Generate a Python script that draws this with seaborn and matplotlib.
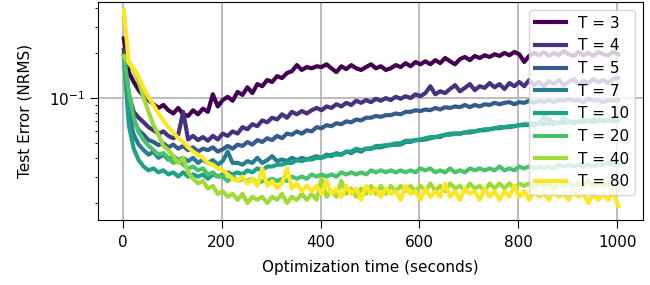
import numpy as np
import pandas as pd
import matplotlib
matplotlib.use("Agg")
import matplotlib.pyplot as plt
import seaborn as sns

plt.rcParams["font.size"] = 11

# sampling times (s) and planning horizons
time_s = np.arange(2, 1003, 10)
horizons = [3, 4, 5, 7, 10, 20, 40, 80]

# test error (NRMS), one value every 10 s
err_T3 = [0.25, 0.149, 0.128, 0.113, 0.103, 0.097, 0.091, 0.086, 0.090, 0.083,
          0.079, 0.086, 0.078, 0.076, 0.083, 0.078, 0.085, 0.081, 0.106, 0.088,
          0.097, 0.102, 0.096, 0.110, 0.105, 0.118, 0.108, 0.124, 0.120, 0.132,
          0.128, 0.140, 0.136, 0.147, 0.151, 0.166, 0.154, 0.161, 0.158, 0.163,
          0.161, 0.168, 0.158, 0.149, 0.163, 0.156, 0.166, 0.158, 0.154, 0.161,
          0.168, 0.158, 0.163, 0.154, 0.158, 0.166, 0.161, 0.171, 0.163, 0.174,
          0.168, 0.176, 0.168, 0.179, 0.171, 0.185, 0.176, 0.168, 0.182, 0.188,
          0.179, 0.191, 0.185, 0.193, 0.188, 0.196, 0.191, 0.200, 0.193, 0.203,
          0.196, 0.174, 0.191, 0.200, 0.193, 0.203, 0.191, 0.200, 0.193, 0.206,
          0.196, 0.191, 0.203, 0.193, 0.200, 0.191, 0.203, 0.196, 0.193, 0.203,
          0.196]
err_T4 = [0.209, 0.105, 0.081, 0.074, 0.069, 0.064, 0.061, 0.058, 0.060, 0.056,
          0.054, 0.057, 0.081, 0.053, 0.056, 0.0525, 0.055, 0.052, 0.056, 0.053,
          0.058, 0.056, 0.060, 0.058, 0.064, 0.062, 0.067, 0.065, 0.071, 0.069,
          0.074, 0.072, 0.078, 0.074, 0.081, 0.078, 0.082, 0.079, 0.083, 0.086,
          0.083, 0.088, 0.086, 0.091, 0.088, 0.093, 0.090, 0.096, 0.093, 0.097,
          0.094, 0.099, 0.096, 0.100, 0.097, 0.102, 0.099, 0.103, 0.100, 0.106,
          0.103, 0.108, 0.120, 0.106, 0.111, 0.108, 0.115, 0.122, 0.111, 0.117,
          0.124, 0.113, 0.120, 0.117, 0.126, 0.118, 0.124, 0.115, 0.126, 0.120,
          0.128, 0.120, 0.132, 0.122, 0.128, 0.120, 0.130, 0.124, 0.132, 0.122,
          0.128, 0.134, 0.124, 0.130, 0.126, 0.134, 0.128, 0.132, 0.126, 0.134,
          0.136]
err_T5 = [0.193, 0.090, 0.071, 0.061, 0.057, 0.0525, 0.051, 0.0486, 0.050, 0.047,
          0.049, 0.046, 0.048, 0.045, 0.047, 0.044, 0.046, 0.045, 0.047, 0.044,
          0.0456, 0.048, 0.046, 0.049, 0.048, 0.051, 0.049, 0.0525, 0.051, 0.054,
          0.0525, 0.056, 0.054, 0.058, 0.057, 0.060, 0.058, 0.061, 0.060, 0.064,
          0.063, 0.066, 0.065, 0.068, 0.067, 0.070, 0.069, 0.072, 0.071, 0.074,
          0.074, 0.076, 0.075, 0.077, 0.077, 0.079, 0.078, 0.081, 0.081, 0.083,
          0.082, 0.084, 0.083, 0.086, 0.084, 0.087, 0.086, 0.088, 0.087, 0.090,
          0.087, 0.090, 0.088, 0.091, 0.090, 0.093, 0.091, 0.093, 0.094, 0.091,
          0.094, 0.093, 0.096, 0.093, 0.096, 0.094, 0.097, 0.094, 0.097, 0.096,
          0.099, 0.096, 0.097, 0.094, 0.099, 0.096, 0.097, 0.094, 0.097, 0.096,
          0.097]
err_T7 = [0.19, 0.077, 0.057, 0.049, 0.045, 0.042, 0.044, 0.040, 0.042, 0.039,
          0.041, 0.0386, 0.040, 0.038, 0.040, 0.037, 0.039, 0.037, 0.0386, 0.036,
          0.038, 0.044, 0.037, 0.037, 0.036, 0.038, 0.037, 0.040, 0.037, 0.0386,
          0.041, 0.038, 0.039, 0.038, 0.040, 0.0386, 0.040, 0.039, 0.040, 0.041,
          0.040, 0.042, 0.041, 0.043, 0.042, 0.044, 0.043, 0.045, 0.044, 0.046,
          0.046, 0.047, 0.047, 0.048, 0.0486, 0.049, 0.049, 0.051, 0.051, 0.0525,
          0.0525, 0.053, 0.054, 0.055, 0.055, 0.057, 0.057, 0.058, 0.058, 0.059,
          0.059, 0.060, 0.061, 0.061, 0.062, 0.063, 0.063, 0.064, 0.064, 0.065,
          0.066, 0.066, 0.067, 0.066, 0.068, 0.067, 0.073, 0.067, 0.069, 0.068,
          0.070, 0.068, 0.070, 0.069, 0.071, 0.069, 0.071, 0.070, 0.072, 0.070,
          0.071]
err_T10 = [0.19, 0.066, 0.046, 0.0386, 0.035, 0.033, 0.034, 0.032, 0.033, 0.031,
           0.032, 0.030, 0.032, 0.030, 0.031, 0.030, 0.031, 0.029, 0.031, 0.030,
           0.031, 0.032, 0.031, 0.032, 0.031, 0.033, 0.032, 0.034, 0.033, 0.035,
           0.035, 0.036, 0.036, 0.037, 0.037, 0.0386, 0.038, 0.039, 0.039, 0.040,
           0.040, 0.041, 0.042, 0.042, 0.042, 0.044, 0.044, 0.046, 0.045, 0.046,
           0.046, 0.048, 0.048, 0.0486, 0.049, 0.050, 0.050, 0.052, 0.052, 0.0525,
           0.053, 0.054, 0.055, 0.055, 0.056, 0.057, 0.058, 0.058, 0.058, 0.059,
           0.060, 0.060, 0.061, 0.062, 0.062, 0.063, 0.064, 0.064, 0.065, 0.065,
           0.066, 0.067, 0.066, 0.068, 0.067, 0.077, 0.067, 0.069, 0.068, 0.074,
           0.069, 0.070, 0.069, 0.071, 0.070, 0.072, 0.070, 0.072, 0.071, 0.072,
           0.074]
err_T20 = [0.19, 0.110, 0.074, 0.059, 0.0525, 0.048, 0.045, 0.042, 0.043, 0.040,
           0.037, 0.0386, 0.036, 0.034, 0.035, 0.033, 0.034, 0.031, 0.032, 0.030,
           0.030, 0.028, 0.030, 0.028, 0.029, 0.028, 0.029, 0.027, 0.028, 0.028,
           0.029, 0.028, 0.029, 0.028, 0.030, 0.029, 0.030, 0.029, 0.031, 0.030,
           0.031, 0.030, 0.031, 0.030, 0.032, 0.031, 0.032, 0.031, 0.032, 0.031,
           0.033, 0.032, 0.033, 0.032, 0.033, 0.032, 0.033, 0.032, 0.033, 0.032,
           0.034, 0.033, 0.034, 0.032, 0.033, 0.032, 0.034, 0.032, 0.033, 0.032,
           0.034, 0.033, 0.034, 0.033, 0.034, 0.033, 0.035, 0.033, 0.034, 0.033,
           0.035, 0.034, 0.035, 0.034, 0.035, 0.034, 0.035, 0.034, 0.036, 0.035,
           0.036, 0.035, 0.036, 0.035, 0.036, 0.035, 0.036, 0.036, 0.037, 0.036,
           0.036]
err_T40 = [0.19, 0.171, 0.154, 0.128, 0.101, 0.081, 0.066, 0.057, 0.048, 0.045,
           0.041, 0.037, 0.040, 0.032, 0.029, 0.027, 0.028, 0.025, 0.026, 0.023,
           0.024, 0.022, 0.023, 0.021, 0.023, 0.020, 0.022, 0.021, 0.022, 0.020,
           0.022, 0.021, 0.023, 0.020, 0.022, 0.021, 0.023, 0.021, 0.023, 0.021,
           0.029, 0.022, 0.024, 0.022, 0.028, 0.023, 0.025, 0.022, 0.025, 0.023,
           0.026, 0.023, 0.026, 0.023, 0.026, 0.024, 0.026, 0.024, 0.026, 0.024,
           0.026, 0.024, 0.027, 0.024, 0.026, 0.024, 0.027, 0.025, 0.026, 0.024,
           0.027, 0.025, 0.026, 0.024, 0.027, 0.025, 0.027, 0.025, 0.027, 0.025,
           0.027, 0.026, 0.027, 0.025, 0.027, 0.026, 0.027, 0.025, 0.027, 0.026,
           0.027, 0.026, 0.027, 0.026, 0.028, 0.026, 0.027, 0.026, 0.027, 0.026,
           0.027]
err_T80 = [0.386, 0.174, 0.158, 0.138, 0.117, 0.101, 0.090, 0.079, 0.071, 0.064,
           0.059, 0.054, 0.051, 0.047, 0.044, 0.042, 0.040, 0.037, 0.036, 0.034,
           0.033, 0.031, 0.029, 0.028, 0.030, 0.027, 0.029, 0.026, 0.034, 0.026,
           0.028, 0.025, 0.027, 0.034, 0.025, 0.027, 0.024, 0.026, 0.024, 0.026,
           0.023, 0.028, 0.023, 0.025, 0.022, 0.026, 0.023, 0.025, 0.021, 0.026,
           0.023, 0.025, 0.022, 0.025, 0.023, 0.024, 0.021, 0.026, 0.023, 0.024,
           0.021, 0.025, 0.022, 0.024, 0.022, 0.027, 0.022, 0.024, 0.021, 0.025,
           0.023, 0.024, 0.021, 0.025, 0.022, 0.024, 0.021, 0.024, 0.022, 0.026,
           0.022, 0.024, 0.021, 0.024, 0.022, 0.023, 0.021, 0.024, 0.022, 0.023,
           0.021, 0.024, 0.022, 0.023, 0.020, 0.023, 0.021, 0.023, 0.021, 0.024,
           0.019]

series = [err_T3, err_T4, err_T5, err_T7, err_T10, err_T20, err_T40, err_T80]
labels = [f"T = {T}" for T in horizons]

# long-form table for seaborn
df = pd.concat(
    [pd.DataFrame({"time": time_s, "error": vals, "T": lab})
     for lab, vals in zip(labels, series)],
    ignore_index=True,
)

palette = dict(zip(labels, [plt.cm.viridis(i / 7) for i in range(len(labels))]))

fig, ax = plt.subplots(figsize=(6.5, 2.85), dpi=100)
sns.lineplot(data=df, x="time", y="error", hue="T", hue_order=labels,
             palette=palette, linewidth=3.0, ax=ax)
ax.set_yscale("log")
ax.set_ylim(0.0154, 0.437)
ax.set_xlim(-50, 1052)
ax.grid(True, which="major", color="#b0b0b0", linewidth=1.2)
ax.tick_params(which="major", length=6)
ax.tick_params(axis="x", which="major", pad=5)
ax.set_xlabel("Optimization time (seconds)", labelpad=7)
ax.set_ylabel("Test Error (NRMS)", labelpad=12)
sns.move_legend(ax, "upper right", title=None, fontsize=11)

fig.subplots_adjust(left=0.151, right=0.989, top=0.993, bottom=0.228)
fig.savefig("out.png")
